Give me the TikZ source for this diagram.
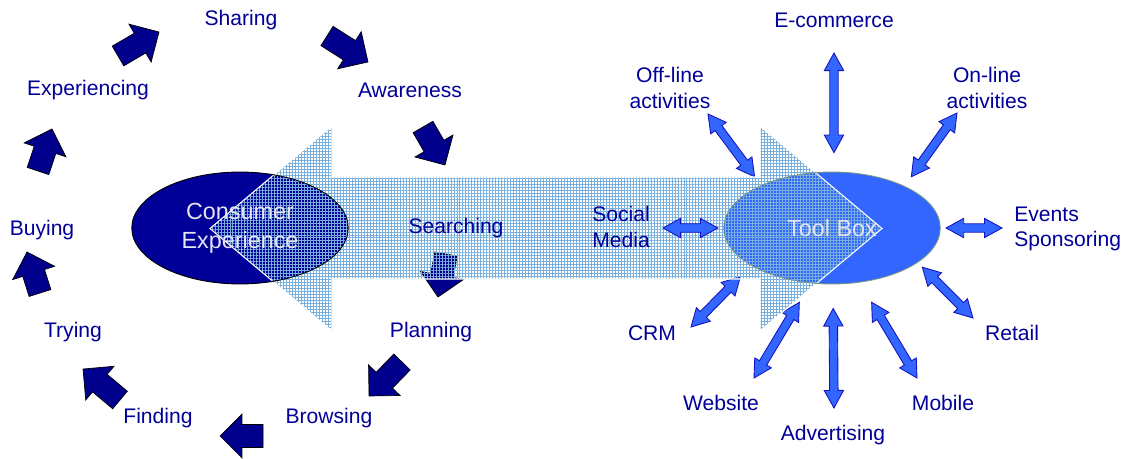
\documentclass[tikz,border=0pt]{standalone}
\usepackage{fontspec}
\setmainfont{Liberation Sans}
\usetikzlibrary{
  calc, % for the let operations inside the block arrows
  shapes.geometric, % for the two ellipses
  patterns.meta, % for the hatched big arrow
}
\definecolor{navy}{RGB}{0,0,153}
\definecolor{cycfill}{RGB}{0,0,140}
\definecolor{tbblue}{RGB}{51,102,255}
\definecolor{tbline}{RGB}{20,20,190}
\definecolor{tbedge}{RGB}{120,150,130}
\definecolor{bighatch}{RGB}{120,175,220}
\definecolor{hubtext}{RGB}{228,228,238}
\pgfdeclarelayer{ground} % fills and arrows below the texts
\pgfsetlayers{ground,main}
\tikzset{
  stage/.style={ % style for the stage and tool texts
    text=navy, % dark blue text
    font=\fontsize{12}{14.5}\selectfont,
    align=center, inner sep=0pt,
  },
  hub/.style={ % style for the two big ellipses (fill is put on the ground layer)
    ellipse, line width=0.5pt,
    minimum width=4.33cm, minimum height=2.24cm,
    text=hubtext, align=center,
    font=\fontsize{13.3}{16.5}\selectfont,
  },
  cyc/.style={ % fat block arrow of the consumer cycle
    draw=black, fill=cycfill, line width=0.4pt,
    to path={let \p1=($(\tikztotarget)-(\tikztostart)$),
      \n1={atan2(\y1,\x1)}, \n2={veclen(\x1,\y1)} in
      {[shift={(\tikztostart)},rotate=\n1]
      (0pt,6.5pt) -- ({\n2-12.5pt},6.5pt) -- ({\n2-12.5pt},12.5pt) -- (\n2,0pt)
      -- ({\n2-12.5pt},-12.5pt) -- ({\n2-12.5pt},-6.5pt) -- (0pt,-6.5pt) -- cycle}},
  },
  dbl/.style={ % thin double block arrow round the tool box, #1 = gap to the ellipse
    draw=tbline, fill=tbblue, line width=0.5pt,
    to path={let \p1=($(\tikztotarget)-(\tikztostart)$),
      \n1={atan2(\y1,\x1)}, \n2={veclen(\x1,\y1)-#1} in
      {[shift={(\tikztostart)},rotate=\n1]
      (0pt,0pt) -- (10pt,5.5pt) -- (10pt,2.4pt) -- ({\n2-10pt},2.4pt) -- ({\n2-10pt},5.5pt)
      -- (\n2,0pt) -- ({\n2-10pt},-5.5pt) -- ({\n2-10pt},-2.4pt) -- (10pt,-2.4pt)
      -- (10pt,-5.5pt) -- cycle}},
  },
}
\begin{document}
\begin{tikzpicture}[x=0.02cm,y=-0.02cm]
  \useasboundingbox (0,0) rectangle (1129,459);

  \node[hub,draw=black] (consumer) at (240,228)
  {Consumer\\Experience};
  \node[hub,draw=tbedge] (toolbox) at (832,228)
  {Tool Box};

  % consumer cycle
  \coordinate (t1) at (327,36);  \coordinate (h1) at (368,62);
  \coordinate (t2) at (446,254); \coordinate (h2) at (438,297);
  \coordinate (t3) at (423,127); \coordinate (h3) at (445,165);
  \coordinate (t4) at (402,362); \coordinate (h4) at (369,396);
  \coordinate (t5) at (263,436); \coordinate (h5) at (220,436);
  \coordinate (t6) at (120,400); \coordinate (h6) at (83,369);
  \coordinate (t7) at (40,293);  \coordinate (h7) at (27,252);
  \coordinate (t8) at (38,171);  \coordinate (h8) at (52,129);
  \coordinate (t9) at (118,56);  \coordinate (h9) at (159,32);

  % tool box arrow ends
  \coordinate (ec1) at (834,53);
  \coordinate (on1) at (957,113);
  \coordinate (ev1) at (1002,228);
  \coordinate (re1) at (973,318);
  \coordinate (mo1) at (917,378);
  \coordinate (ad1) at (834,408);
  \coordinate (we1) at (754,378);
  \coordinate (cr1) at (691,327);
  \coordinate (sm1) at (663,228);
  \coordinate (of1) at (708,114);

  \begin{pgfonlayer}{ground}
    \fill[navy] (consumer.center) ellipse [x radius=2.165cm,y radius=1.12cm];
    \fill[tbblue] (toolbox.center) ellipse [x radius=2.165cm,y radius=1.12cm];
    \draw[cyc] (t1) to (h1);
    \draw[cyc] (t2) to (h2);
    \draw[cyc] (t3) to (h3);
    \draw[cyc] (t4) to (h4);
    \draw[cyc] (t5) to (h5);
    \draw[cyc] (t6) to (h6);
    \draw[cyc] (t7) to (h7);
    \draw[cyc] (t8) to (h8);
    \draw[cyc] (t9) to (h9);
    \draw[dbl=10.8pt] (ec1) to (toolbox.88);
    \draw[dbl=6.5pt] (on1) to (toolbox.30);
    \draw[dbl=3.1pt] (ev1) to (toolbox.0);
    \draw[dbl=3.6pt] (re1) to (toolbox.338);
    \draw[dbl=13.1pt] (mo1) to (toolbox.297.5);
    \draw[dbl=13.7pt] (ad1) to (toolbox.271);
    \draw[dbl=12.6pt] (we1) to (toolbox.249.6);
    \draw[dbl=8.7pt] (cr1) to (toolbox.205.8);
    \draw[dbl=6pt] (of1) to (toolbox.149);
    % big see-through arrow
    \path[draw=white,line width=0.6pt,
      pattern={Hatch[angle=0,distance=1.7pt,line width=0.55pt]},
      pattern color=bighatch,fill opacity=0.75]
      (210,228.5) -- (332,126) -- (332,177) -- (760,177) -- (760,126)
      -- (882,228.5) -- (760,331) -- (760,279) -- (332,279) -- (332,331) -- cycle;
  \end{pgfonlayer}
  \draw[dbl=3.1pt] (sm1) to (toolbox.180);

  % stages
  \node[stage] (sharing) at (241,20) {Sharing};
  \node[stage] (awareness) at (410,90) {Awareness};
  \node[stage] (searching) at (456,228) {Searching};
  \node[stage] (planning) at (431,332) {Planning};
  \node[stage] (browsing) at (329,418) {Browsing};
  \node[stage] (finding) at (158,418) {Finding};
  \node[stage] (trying) at (73,332) {Trying};
  \node[stage] (buying) at (42,230) {Buying};
  \node[stage] (experiencing) at (88,90) {Experiencing};

  % tools
  \node[stage] (ecom) at (834,20) {E-commerce};
  \node[stage] (online) at (987,88) {On-line\\activities};
  \node[stage,anchor=west,align=left] (events) at (1014,229) {Events\\Sponsoring};
  \node[stage] (retail) at (1012,333) {Retail};
  \node[stage] (mobile) at (943,403) {Mobile};
  \node[stage] (advert) at (833,435) {Advertising};
  \node[stage] (website) at (721,403) {Website};
  \node[stage] (crm) at (652,333) {CRM};
  \node[stage,anchor=west,align=left] (social) at (592,227) {Social\\Media};
  \node[stage] (offline) at (670,88) {Off-line\\activities};
\end{tikzpicture}
\end{document}
